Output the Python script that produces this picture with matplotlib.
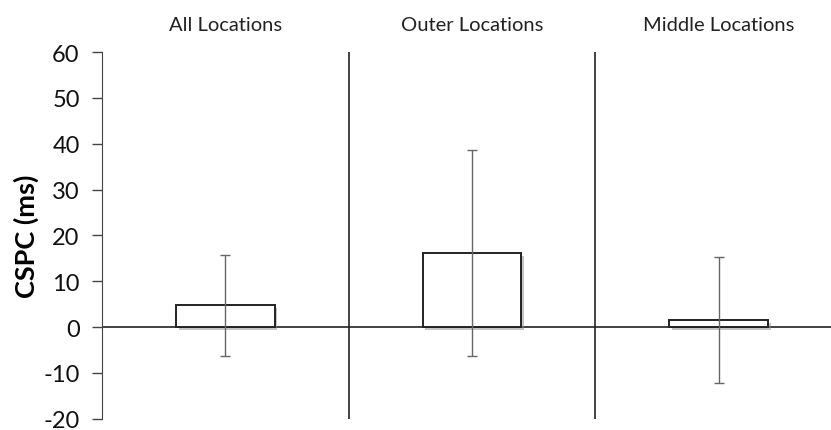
import numpy as np
import matplotlib.pyplot as plt
import matplotlib.patheffects as pe

# CSPC per location group, mean with error bar limits
groups = ['All Locations', 'Outer Locations', 'Middle Locations']
means = [4.8, 16.1, 1.5]
err_low = [-6.2, -6.4, -12.2]
err_high = [15.8, 38.7, 15.3]

plt.rcParams['font.family'] = ['Lato', 'DejaVu Sans']
plt.rcParams['axes.unicode_minus'] = False

fig = plt.figure(figsize=(8.31, 4.31), dpi=100)
ax = fig.add_axes([0.1227, 0.026, 0.8773, 0.851])

x = np.arange(len(groups))
means = np.array(means)
yerr = np.array([means - np.array(err_low), np.array(err_high) - means])

shadow = [pe.SimplePatchShadow(offset=(2, -2), shadow_rgbFace='0.55', alpha=0.5), pe.Normal()]
bars = ax.bar(x, means, width=0.4, color='white', edgecolor='#222222', linewidth=1.4, zorder=2)
for b in bars:
    b.set_path_effects(shadow)
ax.errorbar(x, means, yerr=yerr, fmt='none', ecolor='#666666', elinewidth=1.0,
            capsize=3.5, capthick=1.0, zorder=3)

# zero line and group dividers
ax.axhline(0, color='#222222', lw=1.2, zorder=1)
for d in [0.5, 1.5]:
    ax.axvline(d, color='#222222', lw=1.2, zorder=1)

for xi, g in zip(x, groups):
    ax.text(xi, 1.075, g, transform=ax.get_xaxis_transform(), ha='center', va='center',
            fontsize=14.5, color='#222222')

ax.set_ylim(-20, 60)
ax.set_yticks(np.arange(-20, 61, 10))
ax.set_xlim(-0.5, 2.455)
ax.set_xticks([])
ax.tick_params(axis='y', direction='out', length=7, width=1, color='#444444',
               labelsize=17, labelcolor='#111111', pad=9)
for s in ['top', 'right', 'bottom']:
    ax.spines[s].set_visible(False)
ax.spines['left'].set_color('#444444')
ax.set_ylabel('CSPC (ms)', fontsize=19.5, fontweight='bold', labelpad=3)

fig.savefig('out.png', dpi=100)
